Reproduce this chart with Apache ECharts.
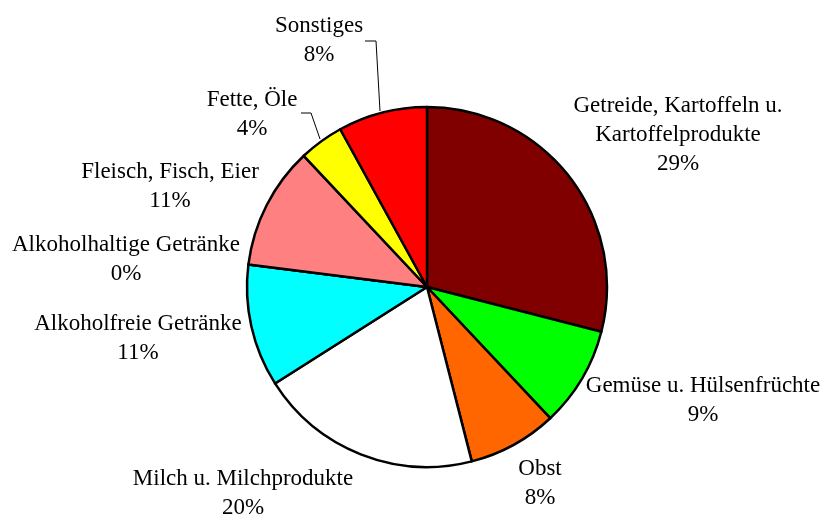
<!DOCTYPE html>
<html>
<head>
<meta charset="utf-8">
<script src="https://cdn.jsdelivr.net/npm/echarts@6/dist/echarts.min.js"></script>
<style>
  html, body { margin: 0; padding: 0; background: #fff; }
  #chart { width: 825px; height: 515px; }
</style>
</head>
<body>
<div id="chart"></div>
<script>
// Anteile der Lebensmittelgruppen (in %), im Uhrzeigersinn ab 12 Uhr
const categories = [
  'Getreide, Kartoffeln u.\nKartoffelprodukte',
  'Gemüse u. Hülsenfrüchte',
  'Obst',
  'Milch u. Milchprodukte',
  'Alkoholfreie Getränke',
  'Alkoholhaltige Getränke',
  'Fleisch, Fisch, Eier',
  'Fette, Öle',
  'Sonstiges'
];
const shares = [29, 9, 8, 20, 11, 0, 11, 4, 8];
const colors = ['#800000', '#00ff00', '#ff6600', '#ffffff', '#00ffff', '#993366', '#ff8080', '#ffff00', '#ff0000'];

// Beschriftungspositionen (Textmitte) und Führungslinien
const labelPlaces = [
  { x: 678, y: 135 },
  { x: 703, y: 400 },
  { x: 540, y: 483 },
  { x: 243, y: 493 },
  { x: 138, y: 338 },
  { x: 126, y: 259 },
  { x: 170, y: 186 },
  { x: 252, y: 114, line: [[301, 113], [311, 113], [320, 139]] },
  { x: 319, y: 40, line: [[365, 41], [376, 41], [380, 111]] }
];

const chart = echarts.init(document.getElementById('chart'), null, { renderer: 'canvas' });

chart.setOption({
  backgroundColor: '#ffffff',
  animation: false,
  series: [{
    type: 'pie',
    center: [427, 287],
    radius: 180,
    startAngle: 90,
    clockwise: true,
    avoidLabelOverlap: false,
    minShowLabelAngle: 0,
    itemStyle: { borderColor: '#000000', borderWidth: 2.5 },
    emphasis: { disabled: true },
    label: {
      show: true,
      position: 'outside',
      formatter: '{b}\n{c}%',
      fontFamily: 'Liberation Serif, Times New Roman, serif',
      fontSize: 23,
      lineHeight: 29,
      color: '#000000',
      align: 'center'
    },
    labelLine: {
      show: true,
      lineStyle: { color: '#000000', width: 1 }
    },
    labelLayout: function (params) {
      const p = labelPlaces[params.dataIndex];
      const out = { x: p.x, y: p.y, align: 'center', verticalAlign: 'middle' };
      out.labelLinePoints = p.line ? p.line : [[p.x, p.y], [p.x, p.y], [p.x, p.y]];
      return out;
    },
    data: categories.map((name, i) => ({
      name: name,
      value: shares[i],
      itemStyle: { color: colors[i] },
      labelLine: { show: !!labelPlaces[i].line }
    }))
  }]
});
</script>
</body>
</html>
